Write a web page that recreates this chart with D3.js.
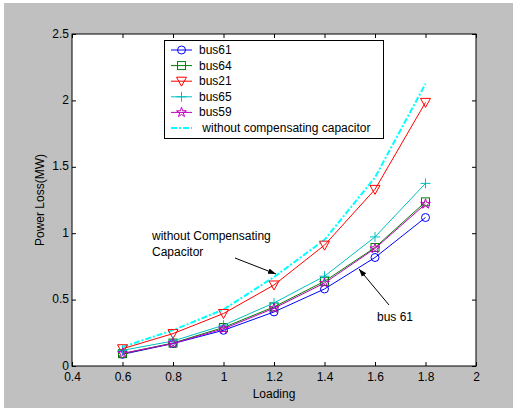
<!DOCTYPE html>
<html>
<head>
<meta charset="utf-8">
<script src="https://cdn.jsdelivr.net/npm/d3@7"></script>
<style>
  body { margin: 0; background: #fff; }
  text { font-family: "Liberation Sans", Arial, sans-serif; }
</style>
</head>
<body>
<script>
// loading levels on the x axis
var loading = [0.6, 0.8, 1.0, 1.2, 1.4, 1.6, 1.8];
// power loss (MW) for each case
var bus61 = [0.088, 0.169, 0.269, 0.407, 0.58, 0.817, 1.118];
var bus64 = [0.093, 0.173, 0.29, 0.445, 0.638, 0.892, 1.236];
var bus21 = [0.13, 0.244, 0.395, 0.61, 0.91, 1.33, 1.985];
var bus65 = [0.118, 0.188, 0.307, 0.475, 0.676, 0.972, 1.375];
var bus59 = [0.095, 0.17, 0.28, 0.435, 0.625, 0.885, 1.22];
var noCap = [0.143, 0.27, 0.425, 0.67, 0.95, 1.42, 2.125];
var xTicks = [0.4, 0.6, 0.8, 1, 1.2, 1.4, 1.6, 1.8, 2];
var yTicks = [0, 0.5, 1, 1.5, 2, 2.5];

var series = [
  {name: "bus61", values: bus61, color: "#0000ff", marker: "circle"},
  {name: "bus64", values: bus64, color: "#008000", marker: "square"},
  {name: "bus21", values: bus21, color: "#ff0000", marker: "tri"},
  {name: "bus65", values: bus65, color: "#00bfbf", marker: "plus"},
  {name: "bus59", values: bus59, color: "#bf00bf", marker: "star"}
];

var w = 518, h = 408;
var svg = d3.select("body").append("svg")
    .attr("width", w)
    .attr("height", h);

// gray figure background
svg.append("rect")
    .attr("x", 4).attr("y", 3)
    .attr("width", 509).attr("height", 405)
    .style("fill", "#c0c0c0");

var x = d3.scaleLinear().domain([0.4, 2]).range([72, 476]);
var y = d3.scaleLinear().domain([0, 2.5]).range([366, 34]);

// white axes area
svg.append("rect")
    .attr("x", x(0.4)).attr("y", y(2.5))
    .attr("width", x(2) - x(0.4)).attr("height", y(0) - y(2.5))
    .style("fill", "#fff")
    .style("stroke", "#000");

// axes with inward ticks on all sides
function styleAxis(g) {
  g.select(".domain").remove();
  g.selectAll(".tick line").attr("stroke", "#000");
  g.selectAll(".tick text").attr("fill", "#000").style("font-size", "12px")
    .style("font-family", "Liberation Sans, Arial, sans-serif");
}
svg.append("g").attr("transform", "translate(0," + y(0) + ")")
    .call(d3.axisBottom(x).tickValues(xTicks).tickSize(-4).tickPadding(6)
      .tickFormat(d3.format("")))
    .call(styleAxis);
svg.append("g").attr("transform", "translate(0," + y(2.5) + ")")
    .call(d3.axisTop(x).tickValues(xTicks).tickSize(-4).tickFormat(""))
    .call(styleAxis);
svg.append("g").attr("transform", "translate(" + x(0.4) + ",0)")
    .call(d3.axisLeft(y).tickValues(yTicks).tickSize(-4).tickPadding(3)
      .tickFormat(d3.format("")))
    .call(styleAxis)
    .selectAll(".tick text").attr("dy", "0.25em");
svg.append("g").attr("transform", "translate(" + x(2) + ",0)")
    .call(d3.axisRight(y).tickValues(yTicks).tickSize(-4).tickFormat(""))
    .call(styleAxis);

// axis labels
svg.append("text")
    .attr("x", (x(0.4) + x(2)) / 2).attr("y", 398)
    .attr("text-anchor", "middle")
    .style("font-size", "12px")
    .text("Loading");
svg.append("text")
    .attr("transform", "translate(44," + y(1.25) + ") rotate(-90)")
    .attr("text-anchor", "middle")
    .style("font-size", "12px")
    .text("Power Loss(MW)");

var line = d3.line()
    .x(function(d){ return x(d[0]); })
    .y(function(d){ return y(d[1]); });

function pts(vals) {
  return loading.map(function(l, i){ return [l, vals[i]]; });
}

// marker drawing
function drawMarker(g, type, cx, cy, color) {
  if (type === "circle") {
    g.append("circle").attr("cx", cx).attr("cy", cy).attr("r", 4)
      .style("fill", "none").style("stroke", color);
  } else if (type === "square") {
    g.append("rect").attr("x", cx - 4).attr("y", cy - 4)
      .attr("width", 8).attr("height", 8)
      .style("fill", "none").style("stroke", color);
  } else if (type === "tri") {
    g.append("path")
      .attr("d", "M" + (cx - 5) + "," + (cy - 4) + "L" + (cx + 5) + "," + (cy - 4) + "L" + cx + "," + (cy + 5) + "Z")
      .style("fill", "none").style("stroke", color);
  } else if (type === "plus") {
    g.append("path")
      .attr("d", "M" + (cx - 5) + "," + cy + "H" + (cx + 5) + "M" + cx + "," + (cy - 5) + "V" + (cy + 5))
      .style("fill", "none").style("stroke", color);
  } else if (type === "star") {
    g.append("path")
      .attr("d", d3.symbol().type(d3.symbolStar).size(30)())
      .attr("transform", "translate(" + cx + "," + cy + ")")
      .style("fill", "none").style("stroke", color);
  }
}

// curve without compensating capacitor
svg.append("path")
    .datum(pts(noCap))
    .attr("d", line)
    .style("fill", "none")
    .style("stroke", "#00ffff")
    .style("stroke-width", 2)
    .style("stroke-dasharray", "6,2,2,2");

series.forEach(function(s) {
  var g = svg.append("g");
  g.append("path")
    .datum(pts(s.values))
    .attr("d", line)
    .style("fill", "none")
    .style("stroke", s.color)
    .style("stroke-width", 1);
  pts(s.values).forEach(function(p) {
    drawMarker(g, s.marker, x(p[0]), y(p[1]), s.color);
  });
});

// legend
var lg = svg.append("g");
lg.append("rect")
    .attr("x", 164.5).attr("y", 40.5)
    .attr("width", 219).attr("height", 98)
    .style("fill", "#fff").style("stroke", "#000");
series.concat([{name: " without compensating capacitor", color: "#00ffff", marker: null}])
  .forEach(function(s, i) {
    var ly = 50 + i * 15.6;
    var ln = lg.append("line")
      .attr("x1", 171).attr("x2", 192)
      .attr("y1", ly).attr("y2", ly)
      .style("stroke", s.color);
    if (s.marker) {
      drawMarker(lg, s.marker, 181.5, ly, s.color);
    } else {
      ln.style("stroke-width", 2).style("stroke-dasharray", "6,2,2,2");
    }
    lg.append("text")
      .attr("x", 199).attr("y", ly + 4)
      .style("font-size", "12px")
      .style("white-space", "pre")
      .attr("xml:space", "preserve")
      .text(s.name);
  });

// annotations
svg.append("defs").append("marker")
    .attr("id", "arrow")
    .attr("viewBox", "0 0 10 10")
    .attr("refX", 10).attr("refY", 5)
    .attr("markerWidth", 8).attr("markerHeight", 8)
    .attr("orient", "auto")
  .append("path")
    .attr("d", "M0,1.5L10,5L0,8.5Z")
    .style("fill", "#000");

svg.append("text").attr("x", 152).attr("y", 240)
    .style("font-size", "12px").text("without Compensating");
svg.append("text").attr("x", 152).attr("y", 256)
    .style("font-size", "12px").text("Capacitor");
svg.append("line")
    .attr("x1", 235).attr("y1", 258).attr("x2", 276).attr("y2", 274)
    .style("stroke", "#000").attr("marker-end", "url(#arrow)");

svg.append("text").attr("x", 377).attr("y", 321)
    .style("font-size", "12px").text("bus 61");
svg.append("line")
    .attr("x1", 389).attr("y1", 305).attr("x2", 359).attr("y2", 269)
    .style("stroke", "#000").attr("marker-end", "url(#arrow)");
</script>
</body>
</html>
